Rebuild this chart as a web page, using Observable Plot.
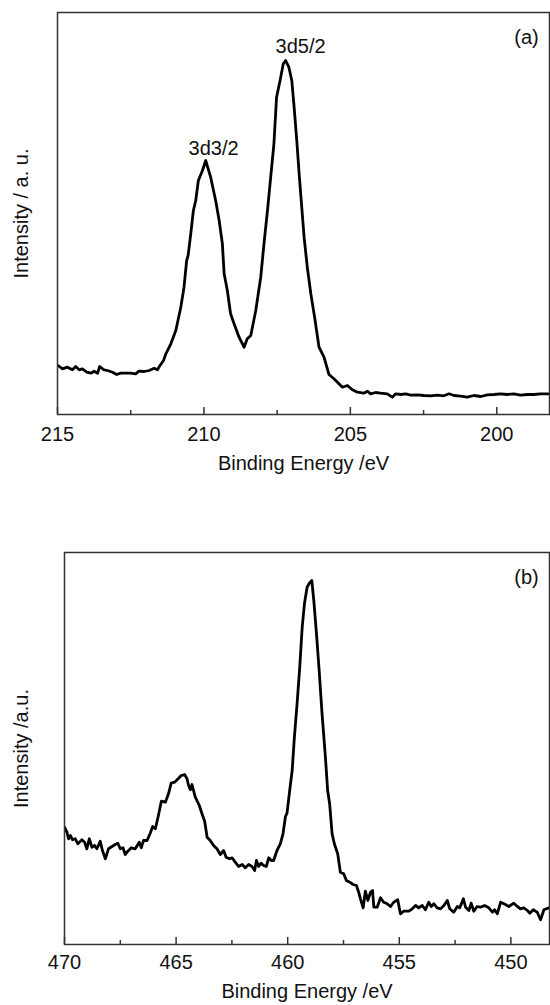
<!DOCTYPE html>
<html>
<head>
<meta charset="utf-8">
<script src="https://cdn.jsdelivr.net/npm/d3@7"></script>
<script src="https://cdn.jsdelivr.net/npm/@observablehq/plot@0.6"></script>
<style>
  html, body { margin: 0; padding: 0; background: #fff; }
  #chart svg { display: block; }
</style>
</head>
<body>
<div id="chart"></div>
<script>
// ---------- Panel (a): 3d region ----------
const topEnergy = [214.98,214.83,214.66,214.49,214.38,214.26,214.15,214.00,213.86,213.75,213.63,213.56,213.41,213.29,213.12,212.98,212.84,212.67,212.50,212.33,212.22,212.04,211.87,211.70,211.59,211.50,211.38,211.30,211.13,210.96,210.79,210.68,210.59,210.54,210.45,210.36,210.28,210.19,210.05,209.94,209.77,209.60,209.48,209.37,209.31,209.20,209.09,208.97,208.80,208.63,208.52,208.40,208.23,208.06,207.95,207.83,207.72,207.61,207.52,207.40,207.29,207.21,207.10,207.00,206.92,206.83,206.74,206.66,206.58,206.47,206.35,206.22,206.07,205.90,205.73,205.56,205.39,205.27,205.10,204.93,204.76,204.54,204.42,204.31,204.14,203.97,203.74,203.57,203.45,203.28,203.11,202.94,202.71,202.49,202.26,202.03,201.81,201.63,201.46,201.24,201.01,200.78,200.55,200.32,200.10,199.87,199.64,199.42,199.19,198.96,198.73,198.51,198.20];
const topIntensity = [49,45.7,47.3,44.7,48,44.7,45.7,42.3,41.3,43.3,41.3,48,44.7,44,42.3,40,41.3,41.3,41.3,40.7,43.3,43,44,46.3,44.7,49,54,60.7,70.7,84,107.3,127.3,154,159,180.7,204,214,234,244,254,237.3,214,194,170.7,140.7,124,100.7,90.7,77.3,67.3,75.7,79,104,137.3,170.7,204,237.3,270.7,317.3,334,350.7,354,347.3,334,307.3,274,237.3,207.3,177.3,147.3,120.7,97.3,67.3,57.3,40,35.7,30.7,27.3,29,24.7,22.3,21.3,23.3,20.7,22,21.3,20.7,17.3,20.7,20,20.7,19.3,19.7,19,18.7,19.3,18.7,20.7,19,18.3,17.3,19,18,19.7,20,20.7,20,20.7,19.3,20,20,20.7,20.7];
const topMajorTicks = [215, 210, 205, 200];
const topMinorTicks = [212.5, 207.5, 202.5];
const topPeakNames = ["3d3/2", "3d5/2"];
const topPeakNameEnergy = [209.67, 206.70];
const topPeakNameIntensity = [266, 367.5];
const topPanelTag = "(a)";
const topXLabel = "Binding Energy /eV";
const topYLabel = "Intensity / a. u.";

// ---------- Panel (b): 2p region ----------
const bottomEnergy = [470.00,469.89,469.82,469.74,469.64,469.52,469.40,469.22,469.10,469.00,468.89,468.77,468.65,468.55,468.40,468.30,468.17,468.03,467.87,467.73,467.61,467.50,467.38,467.28,467.16,467.01,466.83,466.65,466.56,466.46,466.30,466.16,466.05,465.93,465.81,465.66,465.48,465.34,465.22,465.07,464.91,464.77,464.62,464.51,464.44,464.36,464.29,464.14,463.96,463.84,463.72,463.61,463.47,463.32,463.17,463.02,462.87,462.76,462.61,462.49,462.35,462.20,462.04,461.90,461.75,461.60,461.48,461.40,461.30,461.19,461.08,460.96,460.85,460.74,460.63,460.48,460.33,460.21,460.10,460.03,459.91,459.80,459.70,459.58,459.46,459.35,459.25,459.13,459.03,458.92,458.83,458.71,458.59,458.46,458.31,458.21,458.12,458.01,457.91,457.76,457.64,457.49,457.37,457.22,457.07,456.92,456.82,456.74,456.62,456.52,456.41,456.29,456.20,456.14,455.99,455.84,455.70,455.54,455.39,455.25,455.07,454.95,454.80,454.57,454.42,454.27,454.13,453.97,453.83,453.68,453.57,453.45,453.30,453.15,453.00,452.85,452.74,452.56,452.40,452.29,452.13,452.03,451.88,451.78,451.66,451.51,451.36,451.18,450.99,450.83,450.73,450.61,450.46,450.31,450.09,449.87,449.71,449.57,449.42,449.26,449.15,449.00,448.82,448.67,448.52,448.30,448.27];
const bottomIntensity = [117.3,112.3,105.7,109,104.7,105.7,100.7,104.7,102.3,95.7,105.7,97.3,99,95.7,103.3,94,85.7,95.7,98,100,101.3,95.7,96.7,90,93.3,96.7,95.7,102.3,96.7,104,104,111.3,118,115.7,127.3,143.3,142.3,150.7,161.3,162.3,165.7,169,170,165.7,159,154.7,160,147.3,139,130.7,123.3,107.3,104,99,95.7,90,94,87.3,85.7,86.7,82.3,78,80,76.7,80,78,74,84,78,81.3,79,78,86.7,84,84,94,100.7,110.7,128,131.3,154,174,207.3,240.7,277.3,317.3,340.7,357.3,361.3,364,344,310.7,274,230.7,187.3,154,140.7,110.7,100.7,90.7,72.3,70.7,64,62.3,60,59,52.3,45.7,36.7,53.3,44,52.3,54,37.3,37.3,46.7,42.3,40.7,38,42.3,44.7,30.7,33.3,33.3,35.7,39,36.7,39,34.7,42.3,38,40.7,36.7,35.7,39,44,35.7,32.3,38,36.7,45.7,37.3,34,41.3,33.3,38,37.3,39,36.7,32.3,34.7,30.7,42.3,40.7,38,41.3,38,35.7,36.7,34,31.3,34.7,32.3,24.7,34.7,36.7,36.7];
const bottomMajorTicks = [470, 465, 460, 455, 450];
const bottomMinorTicks = [467.5, 462.5, 457.5, 452.5];
const bottomPanelTag = "(b)";
const bottomXLabel = "Binding Energy /eV";
const bottomYLabel = "Intensity /a.u.";

const FONT = "'Liberation Sans', Arial, Helvetica, sans-serif";
const INK = "#111";

function panel(cfg) {
  const data = cfg.energy.map((e, i) => ({e, v: cfg.intensity[i]}));
  return Plot.plot({
    width: 550,
    height: cfg.height,
    marginTop: cfg.mt,
    marginBottom: cfg.mb,
    marginLeft: cfg.ml,
    marginRight: 1,
    style: {fontFamily: FONT, fontSize: "20px", color: INK, background: "#fff"},
    x: {domain: cfg.xDomain},
    y: {domain: cfg.yDomain, axis: null},
    marks: [
      Plot.line(data, {x: "e", y: "v", stroke: "#000", strokeWidth: 2.8, strokeLinejoin: "round", clip: true}),
      Plot.frame({stroke: "#333", strokeWidth: 1.5}),
      // inward-pointing ticks: draw downward ticks shifted up by their length
      Plot.axisX({ticks: cfg.major, tickSize: 7, dy: -7, strokeWidth: 1.5, stroke: "#333", text: null, label: null}),
      Plot.axisX({ticks: cfg.minor, tickSize: 4, dy: -4, strokeWidth: 1.5, stroke: "#333", text: null, label: null}),
      Plot.axisX({ticks: cfg.major, tickSize: 0, tickPadding: cfg.tickPad, fontSize: 20, fill: INK, tickFormat: d => String(d), label: null}),
      Plot.text([cfg.xLabel], {frameAnchor: "bottom", dy: cfg.titleDy, fontSize: 20, fill: INK, lineAnchor: "middle"}),
      Plot.text([cfg.yLabel], {frameAnchor: "left", dx: -cfg.yLabelDx, rotate: -90, fontSize: 20, fill: INK, textAnchor: "middle", lineAnchor: "middle"}),
      Plot.text([cfg.tag], {frameAnchor: "top-right", dx: -23, dy: 25, fontSize: 20, fill: INK, textAnchor: "middle", lineAnchor: "middle"}),
      ...(cfg.peakNames ? [Plot.text(cfg.peakNames.map((t, i) => ({t, e: cfg.peakE[i], v: cfg.peakV[i]})), {x: "e", y: "v", text: "t", fontSize: 20, fill: INK, textAnchor: "middle", lineAnchor: "middle"})] : [])
    ]
  });
}

const chart = document.getElementById("chart");
chart.append(panel({
  energy: topEnergy, intensity: topIntensity,
  height: 480, mt: 12, mb: 66, ml: 57,
  xDomain: [215, 198.2], yDomain: [0, 402],
  major: topMajorTicks, minor: topMinorTicks, tickPad: 12,
  xLabel: topXLabel, yLabel: topYLabel, titleDy: 49, yLabelDx: 36,
  tag: topPanelTag,
  peakNames: topPeakNames, peakE: topPeakNameEnergy, peakV: topPeakNameIntensity
}));
chart.append(panel({
  energy: bottomEnergy, intensity: bottomIntensity,
  height: 525, mt: 72, mb: 61, ml: 64,
  xDomain: [470, 448.27], yDomain: [0, 392],
  major: bottomMajorTicks, minor: bottomMinorTicks, tickPad: 10,
  xLabel: bottomXLabel, yLabel: bottomYLabel, titleDy: 47, yLabelDx: 43,
  tag: bottomPanelTag
}));
</script>
</body>
</html>
